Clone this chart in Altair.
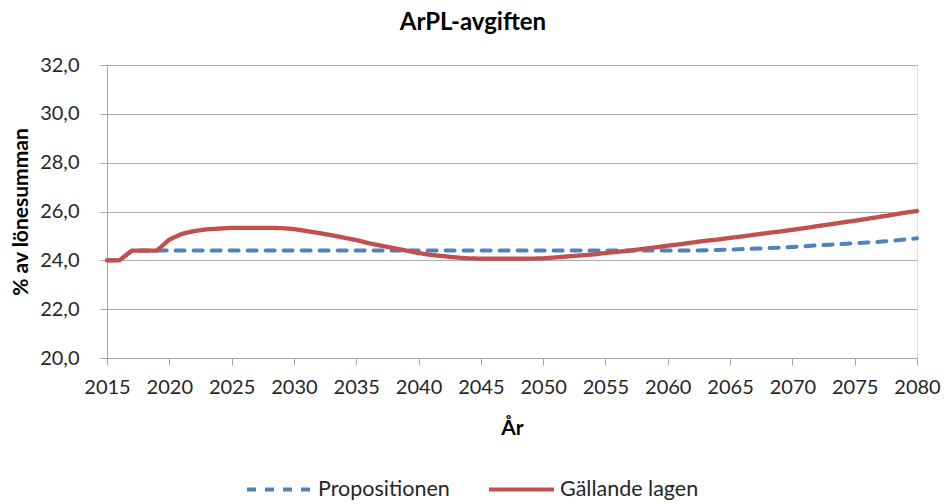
import altair as alt
import pandas as pd

years = list(range(2015, 2081))

propositionen = [
    24.0, 24.0, 24.4, 24.4, 24.4, 24.4, 24.4, 24.4, 24.4, 24.4,   # 2015-2024
    24.4, 24.4, 24.4, 24.4, 24.4, 24.4, 24.4, 24.4, 24.4, 24.4,   # 2025-2034
    24.4, 24.4, 24.4, 24.4, 24.4, 24.4, 24.4, 24.4, 24.4, 24.4,   # 2035-2044
    24.4, 24.4, 24.4, 24.4, 24.4, 24.4, 24.4, 24.4, 24.4, 24.4,   # 2045-2054
    24.4, 24.4, 24.4, 24.4, 24.4, 24.4, 24.4, 24.4, 24.41, 24.42, # 2055-2064
    24.44, 24.46, 24.48, 24.5, 24.52, 24.55, 24.58, 24.61, 24.64, 24.67,  # 2065-2074
    24.7, 24.73, 24.76, 24.8, 24.85, 24.9,                          # 2075-2080
]

gallande = [
    24.0, 24.0, 24.4, 24.4, 24.4, 24.85, 25.08, 25.2, 25.27, 25.3,     # 2015-2024
    25.33, 25.33, 25.33, 25.33, 25.32, 25.28, 25.2, 25.12, 25.03, 24.93,  # 2025-2034
    24.83, 24.7, 24.6, 24.5, 24.4, 24.3, 24.22, 24.17, 24.12, 24.08,   # 2035-2044
    24.07, 24.07, 24.07, 24.07, 24.07, 24.08, 24.12, 24.16, 24.2, 24.24,  # 2045-2054
    24.3, 24.35, 24.4, 24.47, 24.53, 24.6, 24.66, 24.73, 24.8, 24.85,  # 2055-2064
    24.92, 24.98, 25.05, 25.12, 25.18, 25.25, 25.32, 25.4, 25.47, 25.55,  # 2065-2074
    25.62, 25.7, 25.78, 25.86, 25.95, 26.02,                            # 2075-2080
]

series_names = ["Propositionen", "Gällande lagen"]
series_colors = ["#4F81BD", "#C0504D"]
x_ticks = list(range(2015, 2081, 5))
y_ticks = [20, 22, 24, 26, 28, 30, 32]

rows = []
for y, v in zip(years, propositionen):
    rows.append({"År": y, "value": v, "serie": "Propositionen"})
for y, v in zip(years, gallande):
    rows.append({"År": y, "value": v, "serie": "Gällande lagen"})
df = pd.DataFrame(rows)

FONT = "Lato"

x_enc = alt.X(
    "År:Q",
    scale=alt.Scale(domain=[2015, 2080], nice=False, zero=False),
    axis=alt.Axis(
        values=x_ticks, format="d", grid=False, title="År",
        labelFontSize=20, labelFont=FONT, labelColor="#262626",
        labelPadding=12, tickSize=7, tickColor="#A6A6A6",
        domainColor="#A6A6A6", titleFont=FONT, titleFontSize=21,
        titleFontWeight="bold", titleColor="#000000", titlePadding=20,
        labelFlush=False,
    ),
)
y_enc = alt.Y(
    "value:Q",
    scale=alt.Scale(domain=[20, 32], nice=False, zero=False),
    axis=alt.Axis(
        values=y_ticks, grid=True, gridColor="#ABABAB",
        labelExpr="replace(format(datum.value, '.1f'), '.', ',')",
        labelFontSize=20, labelFont=FONT, labelColor="#262626",
        labelPadding=21, tickSize=7, tickColor="#A6A6A6",
        domainColor="#A6A6A6", title="% av lönesumman",
        titleFont=FONT, titleFontSize=21, titleFontWeight="bold",
        titleColor="#000000", titlePadding=8,
    ),
)

legend_opts = dict(
    title=None, orient="none", direction="horizontal",
    legendX=138, legendY=390, symbolType="stroke",
    symbolSize=4225, symbolStrokeWidth=4, labelFontSize=21.5,
    labelFont=FONT, labelColor="#262626", columnPadding=31,
    labelOffset=4,
)

color_enc = alt.Color(
    "serie:N",
    scale=alt.Scale(domain=series_names, range=series_colors),
    legend=alt.Legend(**legend_opts),
)
dash_enc = alt.StrokeDash(
    "serie:N",
    scale=alt.Scale(domain=series_names, range=[[9, 9], [1, 0]]),
    legend=alt.Legend(**legend_opts),
)

base = alt.Chart(df).encode(x=x_enc, y=y_enc, color=color_enc, strokeDash=dash_enc)

blue = base.transform_filter(alt.datum.serie == "Propositionen").mark_line(
    strokeWidth=4, strokeCap="round"
)
red = base.transform_filter(alt.datum.serie == "Gällande lagen").mark_line(
    strokeWidth=4.3, strokeCap="round"
)

chart = (
    alt.layer(blue, red)
    .properties(
        width=810,
        height=293,
        autosize=alt.AutoSizeParams(type="none"),
        padding={"left": 99, "top": 57, "right": 25, "bottom": 146},
        title=alt.TitleParams(
            text="ArPL-avgiften", font=FONT, fontSize=24, fontWeight="bold",
            color="#000000", anchor="middle", dx=-39, offset=20,
        ),
    )
    .configure_view(strokeWidth=0)
    .configure(background="white")
)

chart.save("out.html", embed_options={"renderer": "svg", "actions": False})
